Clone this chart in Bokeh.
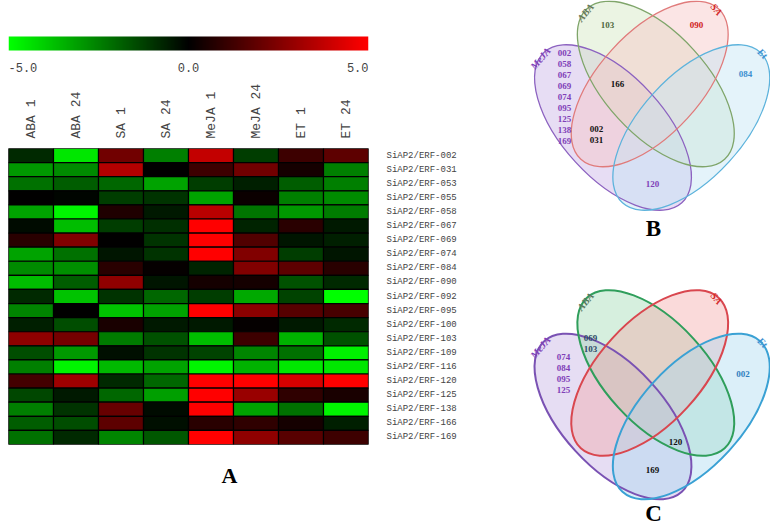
import math
import numpy as np
from bokeh.plotting import figure
from bokeh.layouts import row, column
from bokeh.models import ColumnDataSource, LinearColorMapper, Range1d
from bokeh.transform import transform
from bokeh.core.properties import value
from bokeh.embed import file_html
from bokeh.resources import INLINE

# ---------------- data ----------------
conditions = ["ABA 1", "ABA 24", "SA 1", "SA 24", "MeJA 1", "MeJA 24", "ET 1", "ET 24"]
genes = ["SiAP2/ERF-002", "SiAP2/ERF-031", "SiAP2/ERF-053", "SiAP2/ERF-055",
         "SiAP2/ERF-058", "SiAP2/ERF-067", "SiAP2/ERF-069", "SiAP2/ERF-074",
         "SiAP2/ERF-084", "SiAP2/ERF-090", "SiAP2/ERF-092", "SiAP2/ERF-095",
         "SiAP2/ERF-100", "SiAP2/ERF-103", "SiAP2/ERF-109", "SiAP2/ERF-116",
         "SiAP2/ERF-120", "SiAP2/ERF-125", "SiAP2/ERF-138", "SiAP2/ERF-166",
         "SiAP2/ERF-169"]

aba_1 = [-0.8, -3.0, -2.2, 0.0, -3.2, -0.2, 0.8, -3.2, -2.7, -3.7, -0.8, -2.6, -0.6, 2.8, -1.5, -2.5, 1.3, -1.4, -2.5, -1.8, -2.2]
aba_24 = [-4.5, -2.7, -1.8, -0.1, -4.8, -3.7, 2.5, -2.2, -2.8, -1.8, -3.8, 0.0, -1.5, 2.3, -3.0, -4.8, 3.1, -0.5, -1.0, -1.5, -0.8]
sa_1 = [2.2, 3.5, -2.0, -1.2, 0.6, -1.2, 0.0, -0.4, 0.8, 2.8, -1.0, -3.8, 0.5, -2.4, -0.3, -3.6, -0.8, -2.0, 2.0, 1.8, -2.6]
sa_24 = [-2.5, 0.0, -3.2, -1.0, -0.5, -0.9, -1.0, -1.0, 0.1, -0.4, -2.0, -3.2, -0.5, -1.6, -1.0, -3.2, -2.0, -3.1, -0.2, -0.3, -1.7]
meja_1 = [3.8, 1.2, -1.2, -3.2, 3.6, 5.0, 5.0, 5.0, -0.7, 0.4, -1.2, 5.0, -0.5, -3.7, -1.3, -4.8, 5.0, 5.0, 5.0, 0.8, 5.0]
meja_24 = [-1.2, 2.2, -0.6, 0.2, -2.3, -0.7, 1.6, 2.5, 2.5, 0.4, -3.3, 2.7, 0.1, 1.2, -2.6, -3.5, 5.0, 3.0, -3.2, 0.9, 2.8]
et_1 = [1.2, 0.4, -1.8, -2.5, -3.0, 0.8, -0.4, -1.2, 1.8, -1.6, -1.3, 1.7, -0.5, -3.5, -2.2, -4.5, 4.2, 0.9, -2.2, 0.4, 1.7]
et_24 = [1.8, -2.5, -2.5, -2.7, -2.4, -0.5, -0.6, -0.4, 0.8, -0.8, -5.0, 1.4, -0.8, -1.6, -4.7, -4.5, 5.0, 0.5, -4.8, -0.6, 1.2]

scale_ticks = [-5.0, 0.0, 5.0]
scale_labels = ["-5.0", "0.0", "5.0"]

venn_sets = ["MeJA", "ABA", "SA", "Et"]
# Venn B region members
b_meja_only = ["002", "058", "067", "069", "074", "095", "125", "138", "169"]
b_aba_only = ["103"]
b_sa_only = ["090"]
b_et_only = ["084"]
b_aba_sa_meja = ["166"]
b_sa_meja = ["002", "031"]
b_meja_et = ["120"]
# Venn C region members
c_meja_only = ["074", "084", "095", "125"]
c_meja_aba = ["069", "103"]
c_et_only = ["002"]
c_sa_aba_et = ["120"]
c_meja_et = ["169"]

# ---------------- heatmap ----------------
series = [aba_1, aba_24, sa_1, sa_24, meja_1, meja_24, et_1, et_24]
xs, ys, vs = [], [], []
for cond, vals in zip(conditions, series):
    for g, v in zip(genes, vals):
        xs.append(cond); ys.append(g); vs.append(v)
src = ColumnDataSource(dict(cond=xs, gene=ys, val=vs))

palette = []
for i in range(256):
    t = i / 255.0
    if t < 0.5:
        g = int(round(255 * (1 - 2 * t))); r = 0
    else:
        r = int(round(255 * (2 * t - 1))); g = 0
    palette.append("#%02x%02x%02x" % (r, g, 0))
mapper = LinearColorMapper(palette=palette, low=-5, high=5)

MONO = "Liberation Mono"
LEFT_W = 520
FRAME_L, FRAME_R = 8, 368

# color bar figure
cb = figure(width=LEFT_W, height=80, x_range=Range1d(-5, 5), y_range=Range1d(0, 80),
            output_backend="svg", toolbar_location=None,
            min_border_left=FRAME_L, min_border_right=LEFT_W - FRAME_R,
            min_border_top=0, min_border_bottom=0)
cb.axis.visible = False
cb.grid.visible = False
cb.outline_line_color = None
grad = np.linspace(-5, 5, 360).reshape(1, -1)
cb.image(image=[grad], x=-5, y=30, dw=10, dh=14, color_mapper=mapper)
for t, lab, al in zip(scale_ticks, scale_labels, ["left", "center", "right"]):
    cb.text(x=[t], y=[13], text=[lab], text_align=al, text_baseline="middle",
            text_font=value(MONO), text_font_size="12px", text_color="#444444")

heat = figure(width=LEFT_W, height=372, x_range=conditions, y_range=list(reversed(genes)),
              x_axis_location="above", y_axis_location="right",
              output_backend="svg", toolbar_location=None,
              min_border_left=FRAME_L, min_border_right=LEFT_W - FRAME_R,
              min_border_top=66, min_border_bottom=8)
heat.rect(x="cond", y="gene", width=1, height=1, source=src,
          fill_color=transform("val", mapper), line_color="#000000", line_width=1.2)
heat.grid.visible = False
heat.outline_line_color = "#999999"
for ax in heat.axis:
    ax.axis_line_color = None
    ax.major_tick_line_color = None
    ax.minor_tick_line_color = None
    ax.major_label_text_font = MONO
    ax.major_label_text_color = "#444444"
heat.xaxis.major_label_orientation = math.pi / 2
heat.xaxis.major_label_text_font_size = "13px"
heat.xaxis.major_label_standoff = 4
heat.yaxis.major_label_text_font_size = "9px"
heat.yaxis.major_label_standoff = 12

# panel letter A (frame aligned with the heatmap frame by the column layout)
afig = figure(width=LEFT_W, height=75, x_range=Range1d(FRAME_L, FRAME_R), y_range=Range1d(0, 75),
              output_backend="svg", toolbar_location=None,
              min_border_left=FRAME_L, min_border_right=LEFT_W - FRAME_R,
              min_border_top=0, min_border_bottom=0)
afig.axis.visible = False
afig.grid.visible = False
afig.outline_line_color = None
afig.text(x=[229], y=[52], text=["A"], text_align="center", text_baseline="middle",
          text_font=value("Liberation Serif"), text_font_style="bold",
          text_font_size="22px", text_color="#000000")

# ---------------- venn diagrams ----------------
SERIF = "Liberation Serif"
# ellipse geometry (pixel coords, y downward) for MeJA, ABA, SA, Et
ecx = [612.5, 655.3, 649.2, 690.8]
ecy = [127.0, 83.5, 83.5, 127.0]
eang = [-0.83, -0.83, 0.83, 0.83]
label_pos = [(540, 58, 0.87), (585, 12, 0.87), (716, 9, -0.87), (762, 53, -0.75)]


def venn(fig, dy, fills, lines, alpha, lw, label_colors, texts, letter, letter_y):
    es = ColumnDataSource(dict(x=ecx, y=[-(v + dy) for v in ecy], ang=eang,
                               fill=fills, line=lines))
    fig.ellipse(x="x", y="y", width=204, height=102, angle="ang", source=es,
                fill_color="fill", fill_alpha=alpha, line_color=None)
    fig.ellipse(x="x", y="y", width=204, height=102, angle="ang", source=es,
                fill_color=None, line_color="line", line_width=lw)
    for name, (lx, ly, la), col in zip(venn_sets, label_pos, label_colors):
        fig.text(x=[lx], y=[-(ly + dy)], text=[name], angle=la, text_align="center",
                 text_baseline="middle", text_font=value(SERIF),
                 text_font_style="bold italic", text_font_size="10px", text_color=col)
    for (tx, ty, items, col) in texts:
        fig.text(x=[tx], y=[-(ty + dy)], text=["\n".join(items)], text_align="center",
                 text_baseline="middle", text_font=value(SERIF), text_font_style="bold",
                 text_font_size="9px", text_color=col, text_line_height=1.1)
    fig.text(x=[653], y=[-letter_y], text=[letter], text_align="center",
             text_baseline="middle", text_font=value(SERIF), text_font_style="bold",
             text_font_size="23px", text_color="#000000")


RIGHT_W = 770 - LEFT_W
vb = figure(width=RIGHT_W, height=263, x_range=Range1d(LEFT_W, 770), y_range=Range1d(-263, 0),
            output_backend="svg", toolbar_location=None, min_border=0)
vc = figure(width=RIGHT_W, height=264, x_range=Range1d(LEFT_W, 770), y_range=Range1d(-527, -263),
            output_backend="svg", toolbar_location=None, min_border=0)
for f in (vb, vc):
    f.axis.visible = False
    f.grid.visible = False
    f.outline_line_color = None

PURPLE = "#8040b8"
venn(vb, 0,
     ["#c9b3e6", "#d3e6c1", "#f7c6c6", "#c3e4f3"],
     ["#8c62c0", "#7fa56a", "#e07b7b", "#5db3dc"], 0.45, 1.3,
     [PURPLE, "#66785a", "#d42a2a", "#3a8fd0"],
     [(564, 96.5, b_meja_only, PURPLE), (607, 24, b_aba_only, "#4f6a3f"),
      (696, 24, b_sa_only, "#d02020"), (745, 73, b_et_only, "#3a8fd0"),
      (617, 83, b_aba_sa_meja, "#111111"), (596, 134, b_sa_meja, "#111111"),
      (652, 183, b_meja_et, PURPLE)],
     "B", 228)
venn(vc, 289,
     ["#c3aee3", "#9ed8b0", "#f3a6a6", "#a9daf0"],
     ["#7a52b3", "#2f9e5b", "#d9474f", "#3aa1d4"], 0.42, 2.0,
     [PURPLE, "#55775f", "#d42a2a", "#3a8fd0"],
     [(563, 83.5, c_meja_only, PURPLE), (590, 54, c_meja_aba, "#2c4a66"),
      (742.5, 84, c_et_only, "#2f7fbf"), (675, 152, c_sa_aba_et, "#111111"),
      (652, 180, c_meja_et, "#111111")],
     "C", 513)

layout = row(column(cb, heat, afig), column(vb, vc))
open("out.html", "w").write(file_html(layout, INLINE))
